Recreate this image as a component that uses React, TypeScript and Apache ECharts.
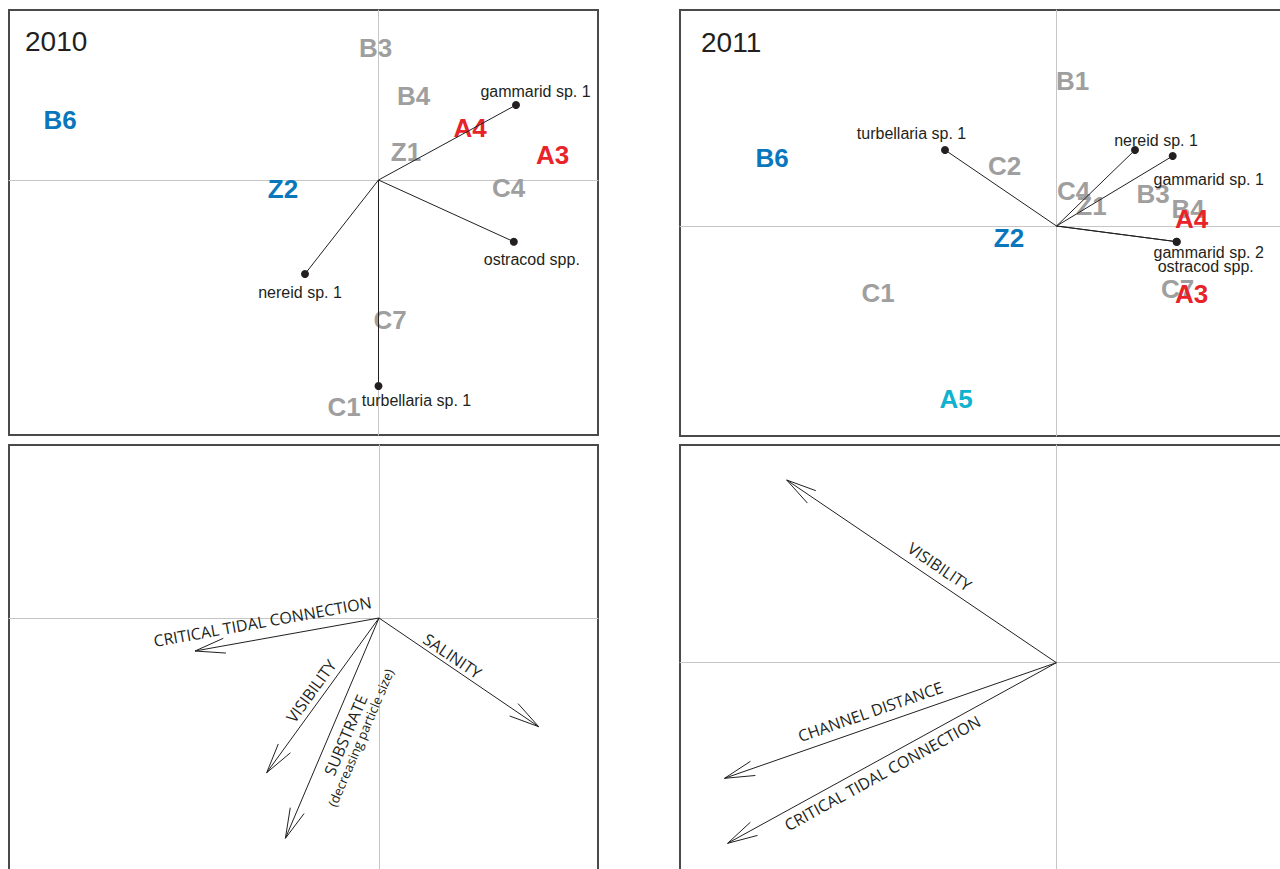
import React, { useEffect, useRef } from "react";
import * as echarts from "echarts";

// ---------------- 2010 ordination: sites ----------------
const sites2010 = ["B3", "B4", "B6", "A4", "Z1", "A3", "Z2", "C4", "C7", "C1"];
const sites2010Type = ["grey", "grey", "blue", "red", "grey", "red", "blue", "grey", "grey", "grey"];
const sites2010X = [-0.03, 0.35, -3.185, 0.915, 0.275, 1.74, -0.955, 1.3, 0.115, -0.345];
const sites2010Y = [1.325, 0.84, 0.6, 0.525, 0.285, 0.25, -0.09, -0.08, -1.4, -2.27];

// ---------------- 2010 ordination: species ----------------
const species2010 = ["gammarid sp. 1", "ostracod spp.", "nereid sp. 1", "turbellaria sp. 1"];
const species2010X = [1.375, 1.353, -0.735, 0.0];
const species2010Y = [0.75, -0.617, -0.94, -2.06];

// ---------------- 2011 ordination: sites ----------------
const sites2011 = ["B1", "B6", "C2", "C4", "Z1", "B3", "B4", "A4", "Z2", "C1", "C7", "A3", "A5"];
const sites2011Type = ["grey", "blue", "grey", "grey", "grey", "grey", "grey", "red", "blue", "grey", "grey", "red", "cyan"];
const sites2011X = [0.16, -2.845, -0.52, 0.17, 0.35, 0.965, 1.315, 1.35, -0.475, -1.785, 1.21, 1.35, -1.005];
const sites2011Y = [1.45, 0.685, 0.6, 0.35, 0.2, 0.32, 0.17, 0.07, -0.115, -0.665, -0.63, -0.68, -1.73];

// ---------------- 2011 ordination: species ----------------
const species2011 = ["turbellaria sp. 1", "nereid sp. 1", "gammarid sp. 1", "gammarid sp. 2", "ostracod spp."];
const species2011X = [-1.115, 0.785, 1.162, 1.202, 1.202];
const species2011Y = [0.76, 0.76, 0.7, -0.157, -0.157];

// ---------------- environmental vectors ----------------
const env2010 = ["CRITICAL TIDAL CONNECTION", "VISIBILITY", "SUBSTRATE", "SALINITY"];
const env2010Sub = ["", "", "(decreasing particle size)", ""];
const env2010X = [-1.84, -1.123, -0.936, 1.597];
const env2010Y = [-0.33, -1.547, -2.203, -1.087];

const env2011 = ["VISIBILITY", "CHANNEL DISTANCE", "CRITICAL TIDAL CONNECTION"];
const env2011Sub = ["", "", ""];
const env2011X = [-2.697, -3.319, -3.288];
const env2011Y = [1.827, -1.156, -1.806];

// ---------------- layout (positions / styles) ----------------
const CANVAS_W = 1400;
const CANVAS_H = 1000;
const panels = [
  { left: 9, top: 10, width: 589, height: 425, x: [-3.695, 2.195], y: [-2.55, 1.7] },
  { left: 680, top: 10, width: 640, height: 426, x: [-3.765, 2.635], y: [-2.1, 2.16] },
  { left: 9, top: 445, width: 589, height: 500, x: [-3.7, 2.19], y: [-3.27, 1.73] },
  { left: 680, top: 445, width: 640, height: 500, x: [-3.764, 2.636], y: [-2.823, 2.177] },
];
const speciesLabelOffset2010 = [[19.5, -14], [18, 18], [-5, 18], [38, 14]];
const speciesLabelOffset2011 = [[-33.5, -17], [21, -10], [36, 23], [32, 11], [29, 25]];
const envPlace2010 = [{ t: 0.617, d: 17 }, { t: 0.518, d: 12 }, { t: 0.505, d: -15 }, { t: 0.425, d: 10 }];
const envSubPlace2010 = [null, null, { t: 0.49, d: -30 }, null];
const envPlace2011 = [{ t: 0.462, d: 14 }, { t: 0.546, d: 15 }, { t: 0.548, d: -13 }];
const envSubPlace2011 = [null, null, null];

const typeColor: Record<string, string> = {
  grey: "#9f9f9f",
  blue: "#0a77bd",
  red: "#e8232a",
  cyan: "#0fb2cf",
};
const typeOrder = ["grey", "blue", "cyan", "red"];
const INK = "#231f20";
const HELV = "'Liberation Sans', Arial, Helvetica, sans-serif";
const OPEN = "'Open Sans', 'Noto Sans', sans-serif";

function siteSeries(gi: number, names: string[], types: string[], xs: number[], ys: number[]) {
  return typeOrder
    .filter((t) => types.includes(t))
    .map((t) => ({
      type: "scatter",
      xAxisIndex: gi,
      yAxisIndex: gi,
      z: 2,
      silent: true,
      symbolSize: 1,
      itemStyle: { color: "rgba(0,0,0,0)", opacity: 1 },
      label: {
        show: true,
        position: "inside",
        formatter: "{b}",
        color: typeColor[t],
        opacity: 1,
        fontSize: 26,
        fontWeight: "bold",
        fontFamily: HELV,
        textBorderWidth: 0,
      },
      data: names
        .map((n, i) => ({ name: n, value: [xs[i], ys[i]], type: types[i] }))
        .filter((d) => d.type === t)
        .map((d) => ({ name: d.name, value: d.value })),
    }));
}

function speciesSeries(gi: number, names: string[], xs: number[], ys: number[], offs: number[][]) {
  return [
    {
      type: "lines",
      coordinateSystem: "cartesian2d",
      xAxisIndex: gi,
      yAxisIndex: gi,
      z: 3,
      silent: true,
      lineStyle: { color: INK, width: 1, opacity: 1 },
      data: names.map((n, i) => ({ coords: [[0, 0], [xs[i], ys[i]]] })),
    },
    {
      type: "scatter",
      xAxisIndex: gi,
      yAxisIndex: gi,
      z: 4,
      silent: true,
      symbolSize: 8,
      itemStyle: { color: INK, opacity: 1 },
      label: {
        show: true,
        position: "inside",
        formatter: "{b}",
        color: INK,
        opacity: 1,
        fontSize: 16,
        fontFamily: HELV,
        textBorderWidth: 0,
      },
      data: names.map((n, i) => ({
        name: n,
        value: [xs[i], ys[i]],
        label: { offset: offs[i] },
      })),
    },
  ];
}

function envSeries(
  gi: number,
  names: string[],
  subs: string[],
  xs: number[],
  ys: number[],
  place: { t: number; d: number }[],
  subPlace: ({ t: number; d: number } | null)[]
) {
  return {
    type: "custom",
    xAxisIndex: gi,
    yAxisIndex: gi,
    z: 3,
    silent: true,
    data: xs.map((x, i) => [x, ys[i]]),
    renderItem: (params: any, api: any) => {
      const i = params.dataIndex;
      const p0 = api.coord([0, 0]);
      const p1 = api.coord([api.value(0), api.value(1)]);
      const dx = p1[0] - p0[0];
      const dy = p1[1] - p0[1];
      const L = Math.hypot(dx, dy) || 1;
      const ux = dx / L;
      const uy = dy / L;
      const headLen = 31;
      const half = (14 * Math.PI) / 180;
      const head = (ang: number) => {
        const a = -ux;
        const b = -uy;
        const c = Math.cos(ang);
        const s = Math.sin(ang);
        return [p1[0] + headLen * (a * c - b * s), p1[1] + headLen * (a * s + b * c)];
      };
      const h1 = head(half);
      const h2 = head(-half);
      const rx = dx >= 0 ? ux : -ux;
      const ry = dx >= 0 ? uy : -uy;
      const rot = Math.atan2(-ry, rx);
      const nx = ry;
      const ny = -rx;
      const mkText = (txt: string, pl: { t: number; d: number }, size: number) => ({
        type: "text",
        x: p0[0] + pl.t * dx + pl.d * nx,
        y: p0[1] + pl.t * dy + pl.d * ny,
        rotation: rot,
        style: {
          text: txt,
          fontSize: size,
          fontFamily: OPEN,
          fill: INK,
          align: "center",
          verticalAlign: "middle",
          textAlign: "center",
          textVerticalAlign: "middle",
        },
      });
      const lineStyle = { stroke: INK, lineWidth: 1 };
      const children: any[] = [
        { type: "line", shape: { x1: p0[0], y1: p0[1], x2: p1[0], y2: p1[1] }, style: lineStyle },
        { type: "line", shape: { x1: p1[0], y1: p1[1], x2: h1[0], y2: h1[1] }, style: lineStyle },
        { type: "line", shape: { x1: p1[0], y1: p1[1], x2: h2[0], y2: h2[1] }, style: lineStyle },
        mkText(names[i], place[i], 16),
      ];
      if (subs[i] && subPlace[i]) children.push(mkText(subs[i], subPlace[i] as any, 13));
      return { type: "group", children };
    },
  };
}

export default function App() {
  const ref = useRef<HTMLDivElement>(null);

  useEffect(() => {
    if (!ref.current) return;
    const chart = echarts.init(ref.current, undefined, { renderer: "svg" });

    const axisCommon = {
      type: "value",
      axisLine: { show: true, onZero: true, lineStyle: { color: "#c6c6c6", width: 1 } },
      axisTick: { show: false },
      axisLabel: { show: false },
      splitLine: { show: false },
    };

    const option: any = {
      animation: false,
      backgroundColor: "#ffffff",
      grid: panels.map((p) => ({
        left: p.left,
        top: p.top,
        width: p.width,
        height: p.height,
        show: true,
        borderColor: "#4a4a4a",
        borderWidth: 2,
        backgroundColor: "rgba(0,0,0,0)",
        containLabel: false,
      })),
      xAxis: panels.map((p, i) => ({ ...axisCommon, gridIndex: i, min: p.x[0], max: p.x[1] })),
      yAxis: panels.map((p, i) => ({ ...axisCommon, gridIndex: i, min: p.y[0], max: p.y[1] })),
      graphic: [
        {
          type: "text",
          x: 25,
          y: 41,
          silent: true,
          style: {
            text: "2010",
            fontSize: 28,
            fontFamily: HELV,
            fill: INK,
            verticalAlign: "middle",
            textVerticalAlign: "middle",
          },
        },
        {
          type: "text",
          x: 701,
          y: 42,
          silent: true,
          style: {
            text: "2011",
            fontSize: 28,
            fontFamily: HELV,
            fill: INK,
            verticalAlign: "middle",
            textVerticalAlign: "middle",
          },
        },
      ],
      series: [
        ...siteSeries(0, sites2010, sites2010Type, sites2010X, sites2010Y),
        ...speciesSeries(0, species2010, species2010X, species2010Y, speciesLabelOffset2010),
        ...siteSeries(1, sites2011, sites2011Type, sites2011X, sites2011Y),
        ...speciesSeries(1, species2011, species2011X, species2011Y, speciesLabelOffset2011),
        envSeries(2, env2010, env2010Sub, env2010X, env2010Y, envPlace2010, envSubPlace2010),
        envSeries(3, env2011, env2011Sub, env2011X, env2011Y, envPlace2011, envSubPlace2011),
      ],
    };

    chart.setOption(option);
    return () => chart.dispose();
  }, []);

  return (
    <div
      style={{
        position: "fixed",
        left: 0,
        top: 0,
        width: 1280,
        height: 869,
        overflow: "hidden",
        background: "#ffffff",
      }}
    >
      <div ref={ref} style={{ width: CANVAS_W, height: CANVAS_H }} />
    </div>
  );
}
